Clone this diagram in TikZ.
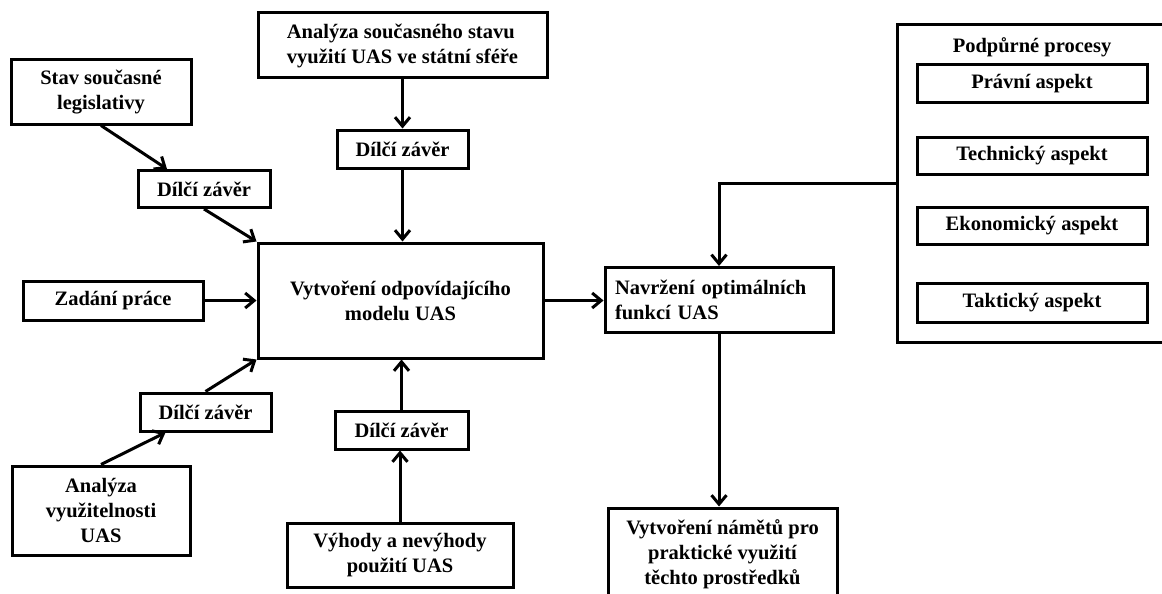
\documentclass[tikz,border=0pt]{standalone}
\usepackage{fontspec}
\setmainfont{Liberation Serif}
\usepackage{tikz}
\usetikzlibrary{arrows,arrows.meta,positioning}
\tikzstyle{blok} = [
  shape=rectangle,
  draw,
  line width=3pt,
  align=center,
  inner sep=3pt,
  font=\fontsize{20.5}{25}\selectfont\bfseries,
  ]
\tikzstyle{sipka} = [-{Straight Barb[length=9pt,width=15pt]}, line width=3pt]
\newcommand{\dz}{D\'il\v{c}\'i z\'av\v{e}r}

\begin{document}
\begin{tikzpicture}[x=1pt, y=-1pt]
  \useasboundingbox (0,0) rectangle (1162,594);

  \node[blok, minimum width=180, minimum height=64] (stav) at (101,92)
    {Stav sou\v{c}asn\'e\\legislativy};
  \node[blok, minimum width=132, minimum height=37] (dz1) at (204,189) {\dz};
  \node[blok, align=left, minimum width=289, minimum height=65] (anal) at (402.5,45.5)
    {Anal\'yza sou\v{c}asn\'eho stavu\\vyu\v{z}it\'i UAS ve st\'atn\'i sf\'e\v{r}e};
  \node[blok, minimum width=131, minimum height=38] (dz2) at (402.5,149) {\dz};
  \node[blok, minimum width=285, minimum height=115] (model) at (400.5,300.5)
    {Vytvo\v{r}en\'i odpov\'idaj\'ic\'iho\\modelu UAS};
  \node[blok, minimum width=180, minimum height=39] (zadani) at (113,300.5)
    {Zad\'an\'i pr\'ace};
  \node[blok, minimum width=131, minimum height=38] (dz3) at (205.5,412) {\dz};
  \node[blok, minimum width=178, minimum height=89] (vyuz) at (101,510.5)
    {Anal\'yza\\vyu\v{z}itelnosti\\UAS};
  \node[blok, minimum width=133, minimum height=38] (dz4) at (401.5,430) {\dz};
  \node[blok, minimum width=226, minimum height=64] (vyhody) at (400,555)
    {V\'yhody a nev\'yhody\\pou\v{z}it\'i UAS};
  \node[blok, align=left, text width=208, minimum width=228, minimum height=65] (navrh) at (719,300)
    {Navr\v{z}en\'i optim\'aln\'ich\\funkc\'i UAS};
  \node[blok, minimum width=229, minimum height=92] (namety) at (722.5,554)
    {Vytvo\v{r}en\'i n\'am\v{e}t\r{u} pro\\praktick\'e vyu\v{z}it\'i\\t\v{e}chto prost\v{r}edk\r{u}};

  % podpurne procesy
  \node[blok, minimum width=280, minimum height=317] (podpora) at (1037,183.5) {};
  \node[font=\fontsize{20.5}{25}\selectfont\bfseries] (podptit) at (1032,47)
    {Podp\r{u}rn\'e procesy};
  \node[blok, minimum width=230, minimum height=37] (pravni) at (1032,83.5) {Pr\'avn\'i aspekt};
  \node[blok, minimum width=230, minimum height=37] (tech) at (1032,155.5) {Technick\'y aspekt};
  \node[blok, minimum width=230, minimum height=37] (ekon) at (1032,225.5) {Ekonomick\'y aspekt};
  \node[blok, minimum width=230, minimum height=39] (takt) at (1032,302.5) {Taktick\'y aspekt};

  \draw[sipka] (stav.south) -- ([xshift=-37]dz1.north);
  \draw[sipka] (dz1.south) -- (model.north west);
  \draw[sipka] (anal) -- (dz2);
  \draw[sipka] (dz2.south) -- (dz2.south |- model.north);
  \draw[sipka] (zadani) -- (model);
  \draw[sipka] (vyuz.north) -- ([xshift=-40]dz3.south);
  \draw[sipka] (dz3.north) -- (model.south west);
  \draw[sipka] (vyhody.north) -- (vyhody.north |- dz4.south);
  \draw[sipka] (dz4.north) -- (dz4.north |- model.south);
  \draw[sipka] (model.east) -- (model.east -| navrh.west);
  \draw[sipka] (podpora.west) -| (navrh.north);
  \draw[sipka] (navrh.south) -- (navrh.south |- namety.north);

\end{tikzpicture}
\end{document}
